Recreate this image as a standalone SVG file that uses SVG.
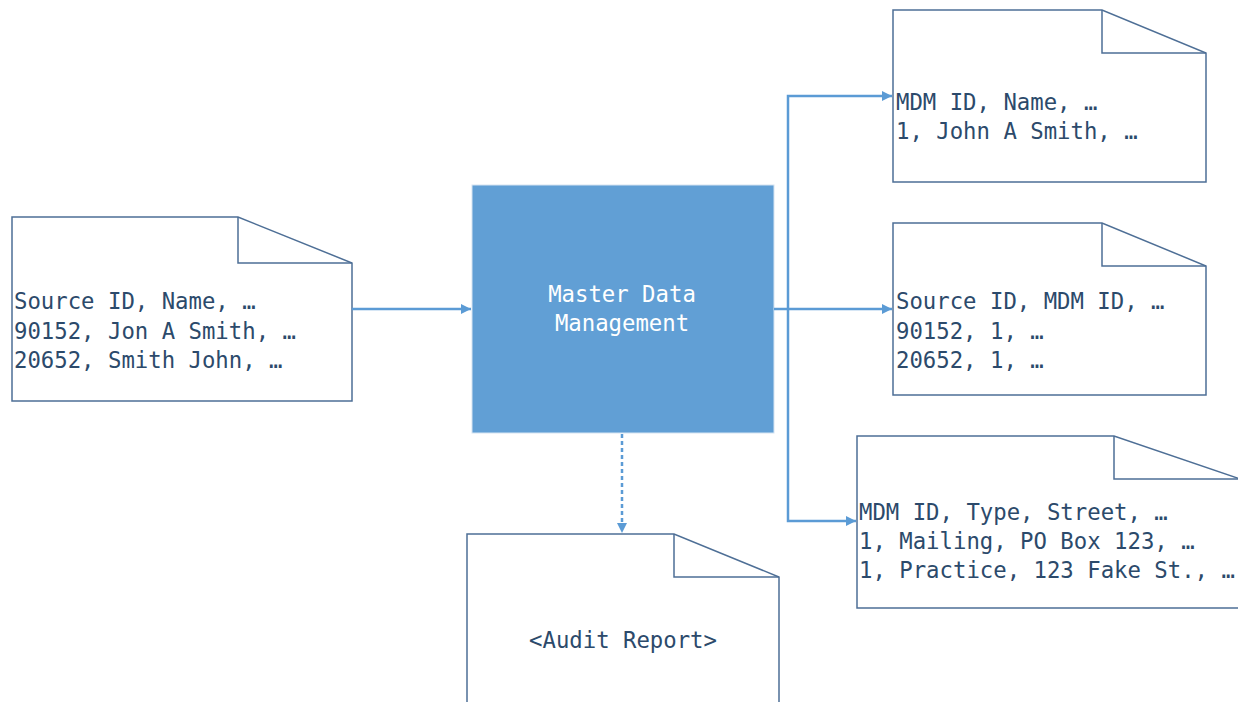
<svg xmlns="http://www.w3.org/2000/svg" width="1238" height="702" viewBox="0 0 1238 702">
<style>
.doc{fill:#fff;stroke:#4e6f96;stroke-width:1.5}
.fold{fill:none;stroke:#4e6f96;stroke-width:1.5}
.t{font-family:"DejaVu Sans Mono","Liberation Mono",monospace;font-size:22.3px;fill:#2c4a6b}
.w{font-family:"DejaVu Sans Mono","Liberation Mono",monospace;font-size:22.3px;fill:#fff;text-anchor:middle}
.c{fill:none;stroke:#5b9bd5;stroke-width:2.5}
</style>
<defs>
<marker id="ah" viewBox="0 0 10 10" refX="10" refY="5" markerWidth="10" markerHeight="10" markerUnits="userSpaceOnUse" orient="auto">
<path d="M0,0 L10,5 L0,10 Z" fill="#5b9bd5"/>
</marker>
</defs>
<rect width="1238" height="702" fill="#fff"/>
<g id="source">
<path class="doc" d="M12,217 H238 L352,263 V401 H12 Z"/>
<path class="fold" d="M238,217 V263 H352"/>
<text class="t" x="14" y="309">Source ID, Name, …</text>
<text class="t" x="14" y="339">90152, Jon A Smith, …</text>
<text class="t" x="14" y="368">20652, Smith John, …</text>
</g>
<g id="mdm">
<rect x="472" y="185" width="302" height="248" fill="#619fd5" stroke="#d6e4f2" stroke-width="1"/>
<text class="w" x="622" y="302">Master Data</text>
<text class="w" x="622" y="331">Management</text>
</g>
<g id="names">
<path class="doc" d="M893,10 H1102 L1206,53 V182 H893 Z"/>
<path class="fold" d="M1102,10 V53 H1206"/>
<text class="t" x="896" y="110">MDM ID, Name, …</text>
<text class="t" x="896" y="139">1, John A Smith, …</text>
</g>
<g id="xref">
<path class="doc" d="M893,223 H1102 L1206,266 V395 H893 Z"/>
<path class="fold" d="M1102,223 V266 H1206"/>
<text class="t" x="896" y="309">Source ID, MDM ID, …</text>
<text class="t" x="896" y="339">90152, 1, …</text>
<text class="t" x="896" y="368">20652, 1, …</text>
</g>
<g id="address">
<path class="doc" d="M857,436 H1114 L1240,479 V608 H857 Z"/>
<path class="fold" d="M1114,436 V479 H1240"/>
<text class="t" x="859" y="520">MDM ID, Type, Street, …</text>
<text class="t" x="859" y="549">1, Mailing, PO Box 123, …</text>
<text class="t" x="859" y="578">1, Practice, 123 Fake St., …</text>
</g>
<g id="audit">
<path class="doc" d="M467,534 H674 L779,577 V710 H467 Z"/>
<path class="fold" d="M674,534 V577 H779"/>
<text class="t" x="623" y="648" text-anchor="middle">&lt;Audit Report&gt;</text>
</g>
<g id="connectors">
<path class="c" d="M352,309 H471" marker-end="url(#ah)"/>
<path class="c" d="M774,309 H892" marker-end="url(#ah)"/>
<path class="c" d="M788,309 V96 H892" marker-end="url(#ah)"/>
<path class="c" d="M788,309 V521 H856" marker-end="url(#ah)"/>
<path class="c" d="M622,434 V523" stroke-dasharray="4,3"/>
<path d="M617,523 L627,523 L622,533 Z" fill="#5b9bd5"/>
</g>
</svg>
